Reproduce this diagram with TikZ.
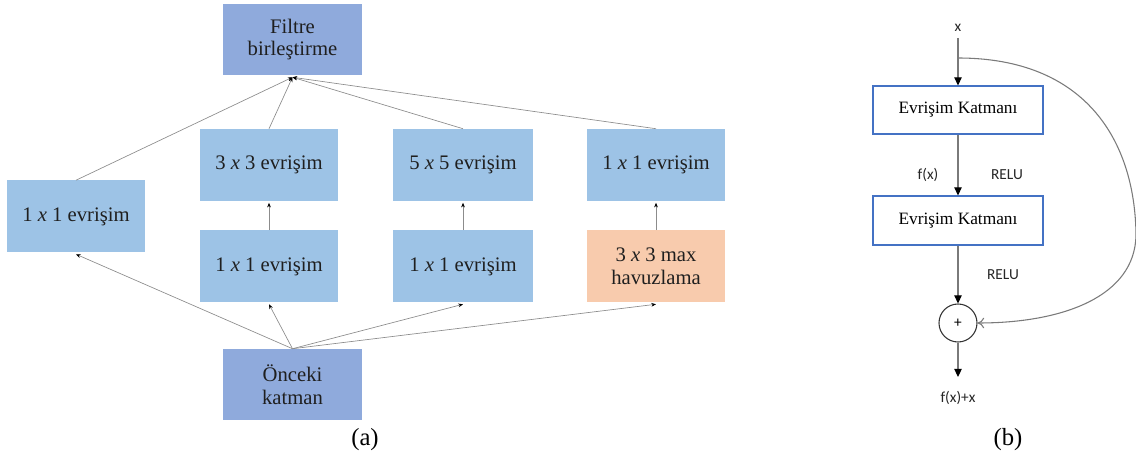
\documentclass[tikz,border=0pt]{standalone}
\usepackage{fontspec}
\setmainfont{Liberation Serif}
\newfontfamily\labelsans{Carlito}
\usetikzlibrary{arrows.meta}
\definecolor{darkblue}{HTML}{8FAADC}
\definecolor{lightblue}{HTML}{9DC3E6}
\definecolor{peach}{HTML}{F8CBAD}
\definecolor{linegray}{HTML}{8C8C8C}
\definecolor{flowgray}{HTML}{7A7A7A}
\definecolor{frameblue}{HTML}{4472C4}
\tikzset{
  blockbox/.style={rectangle, inner sep=0pt, align=center, font=\fontsize{15.5}{17}\selectfont, text=black!88},
  headbox/.style={blockbox, fill=darkblue, minimum width=139*0.75pt, minimum height=71*0.75pt},
  convbox/.style={blockbox, fill=lightblue, minimum width=138*0.75pt, minimum height=72*0.75pt},
  poolbox/.style={blockbox, fill=peach, minimum width=138*0.75pt, minimum height=72*0.75pt},
  thinarrow/.style={draw=linegray, line width=0.5pt, -{Stealth[length=3.5pt,width=2.8pt,color=black]}},
  layerbox/.style={rectangle, draw=frameblue, line width=0.8pt, fill=white, minimum width=170*0.75pt, minimum height=48*0.75pt, font=\fontsize{13}{15}\selectfont},
  sumnode/.style={circle, draw=black!80, line width=0.8pt, minimum size=38*0.75pt, inner sep=0pt, font=\labelsans\fontsize{11.5}{13}\selectfont},
  flowarrow/.style={draw=flowgray, line width=0.8pt, -{Triangle[length=6pt,width=5.5pt,color=black]}},
  sidelabel/.style={font=\labelsans\fontsize{11.5}{13}\selectfont, text=black!85},
  caption/.style={font=\fontsize{18.5}{20}\selectfont}
}
\begin{document}
\begin{tikzpicture}[x=0.75pt, y=-0.75pt]
\useasboundingbox (0,0) rectangle (1136,459);

% ---------- Inception module ----------
\node[headbox] (merge) at (292.5,39.5) {Filtre\\birleştirme};
\node[convbox] (c1)  at (76,216.5)  {1 \textit{x} 1 evrişim};
\node[convbox] (c2t) at (269,165)   {3 \textit{x} 3 evrişim};
\node[convbox] (c2b) at (269,266.5) {1 \textit{x} 1 evrişim};
\node[convbox, minimum width=140*0.75pt] (c3t) at (463,165)   {5 \textit{x} 5 evrişim};
\node[convbox, minimum width=140*0.75pt] (c3b) at (463,266.5) {1 \textit{x} 1 evrişim};
\node[convbox] (c4t) at (656,165)   {1 \textit{x} 1 evrişim};
\node[poolbox] (c4b) at (656,266.5) {3 \textit{x} 3 max\\havuzlama};
\node[headbox] (prev) at (292.5,384.5) {Önceki\\katman};

\coordinate (mergein) at ([yshift=-2*0.75pt]merge.south);
\foreach \n in {c1,c2t,c3t,c4t} \draw[thinarrow] (\n.north) -- (mergein);
\foreach \n in {c1,c2b,c3b,c4b} \draw[thinarrow] (prev.north) -- ([yshift=-1.5*0.75pt]\n.south);
\foreach \a/\b in {c2b/c2t,c3b/c3t,c4b/c4t} \draw[thinarrow] (\a.north) -- ([yshift=-1.5*0.75pt]\b.south);

\node[caption] (capa) at (365,440) {(a)};

% ---------- Residual block ----------
\node[sidelabel] (xin) at (958,28) {x};
\coordinate (xtop) at (958,38);
\coordinate (branch) at (958,58);
\node[layerbox] (conv1) at (958,110) {Evrişim Katmanı};
\node[layerbox, minimum height=49*0.75pt] (conv2) at (958,220.5) {Evrişim Katmanı};
\node[sumnode] (sum) at (958,323) {+};
\coordinate (out) at (958,377);
\node[sidelabel] (fx) at (928,175) {f(x)};
\node[sidelabel] (relu1) at (1007,175) {RELU};
\node[sidelabel] (relu2) at (1003,275) {RELU};
\node[sidelabel] (result) at (958,398) {f(x)+x};

\draw[flowarrow] (xtop) -- (conv1.north);
\draw[flowarrow] (conv1.south) -- (conv2.north);
\draw[flowarrow] (conv2.south) -- (sum.north);
\draw[flowarrow] (sum.south) -- (out);
\draw[draw=flowgray, line width=0.8pt, -{To[length=5pt,width=8pt]}]
  (branch) .. controls (1085,58) and (1135,140) .. (1136,235)
           .. controls (1135,297) and (1062,323) .. (sum.east);

\node[caption] (capb) at (1008,440) {(b)};
\end{tikzpicture}
\end{document}
